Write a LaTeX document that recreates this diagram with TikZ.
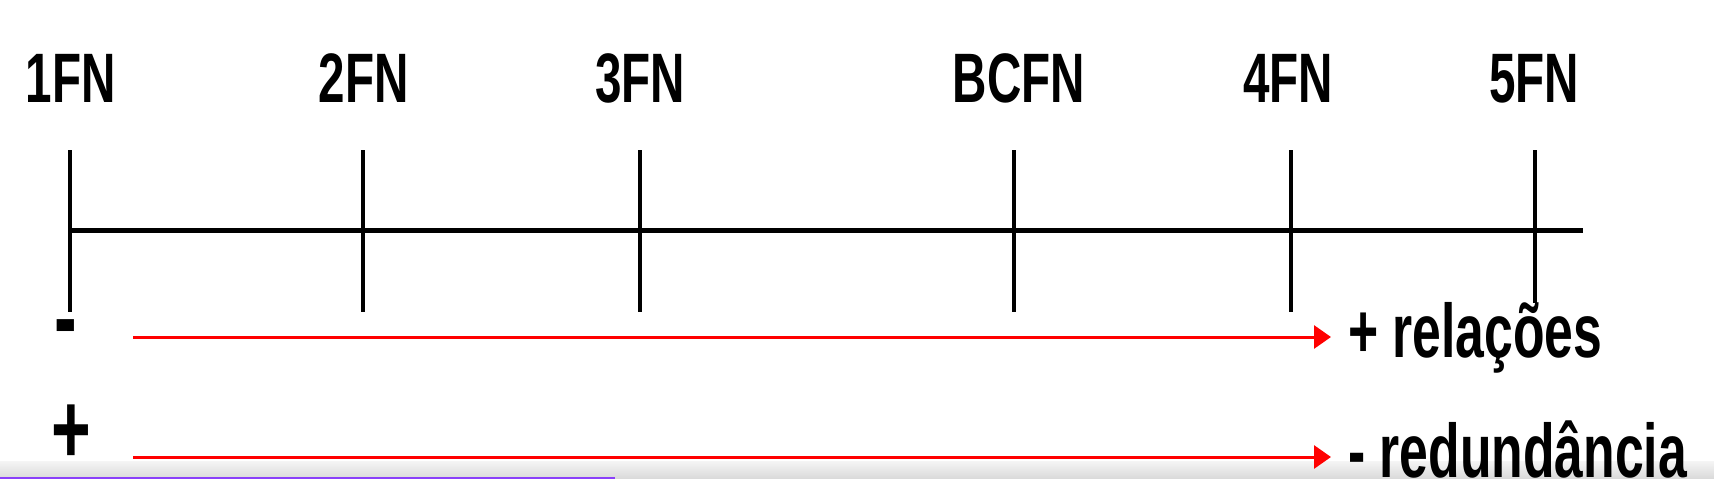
\documentclass[tikz,border=0pt]{standalone}
\usepackage{fontspec}
\usepackage{tikz}
\usetikzlibrary{
	arrows.meta,									% 提供各种箭头样式
}
\newfontfamily\fnfont[FakeStretch=0.68]{Liberation Sans Bold}
\definecolor{barra}{RGB}{138,64,250}
\tikzset{
	fnlabel/.style={font=\fnfont\fontsize{70}{70}\selectfont, inner sep=0pt, anchor=base},
	sinal/.style={font=\fnfont\fontsize{100}{100}\selectfont, inner sep=0pt, anchor=base},
	efeito/.style={font=\fnfont\fontsize{76}{76}\selectfont, inner xsep=17pt, inner ysep=0pt, anchor=base west},
	fntick/.style={line width=3.5pt},
	fnaxis/.style={line width=5pt},
	seta/.style={draw=red, line width=3pt, -{Triangle[length=17pt,width=23pt]}},
}

\begin{document}
\begin{tikzpicture}[x=1pt,y=-1pt]
		\useasboundingbox (0,0) rectangle (1714,479);
		\shade [top color=black!4, bottom color=black!15] (0,461) rectangle (1714,479);
		\fill [barra] (0,477) rectangle (615,479);

		\coordinate (t1) at (70,150);
		\coordinate (t2) at (363,150);
		\coordinate (t3) at (640,150);
		\coordinate (tbc) at (1014,150);
		\coordinate (t4) at (1291,150);
		\coordinate (t5) at (1535,150);
		\coordinate (eixo) at (70,230);
		\coordinate (eixofim) at (1583,230);

		\draw [fnaxis] (eixo) -- (eixofim);
		\draw [fntick] (t1) -- ++(0,162);
		\draw [fntick] (t2) -- ++(0,162);
		\draw [fntick] (t3) -- ++(0,162);
		\draw [fntick] (tbc) -- ++(0,162);
		\draw [fntick] (t4) -- ++(0,162);
		\draw [fntick] (t5) -- ++(0,153);

		\node [fnlabel] (fn1) at (70.5,102) {1FN};
		\node [fnlabel] (fn2) at (363.5,102) {2FN};
		\node [fnlabel] (fn3) at (640,102) {3FN};
		\node [fnlabel] (bcfn) at (1019,102) {BCFN};
		\node [fnlabel] (fn4) at (1288,102) {4FN};
		\node [fnlabel] (fn5) at (1534,102) {5FN};

		\node [sinal] (menos) at (66,351) {-};
		\node [sinal] (mais) at (71.5,463) {+};

		\coordinate (s1) at (133,337);
		\coordinate (s2) at (133,457);
		\node [efeito] (rel) at (1331,357) {+ relações};
		\node [efeito] (red) at (1331,477) {- redundância};
		\draw [seta] (s1) -- (s1 -| rel.west);
		\draw [seta] (s2) -- (s2 -| red.west);
	\end{tikzpicture}
\end{document}
